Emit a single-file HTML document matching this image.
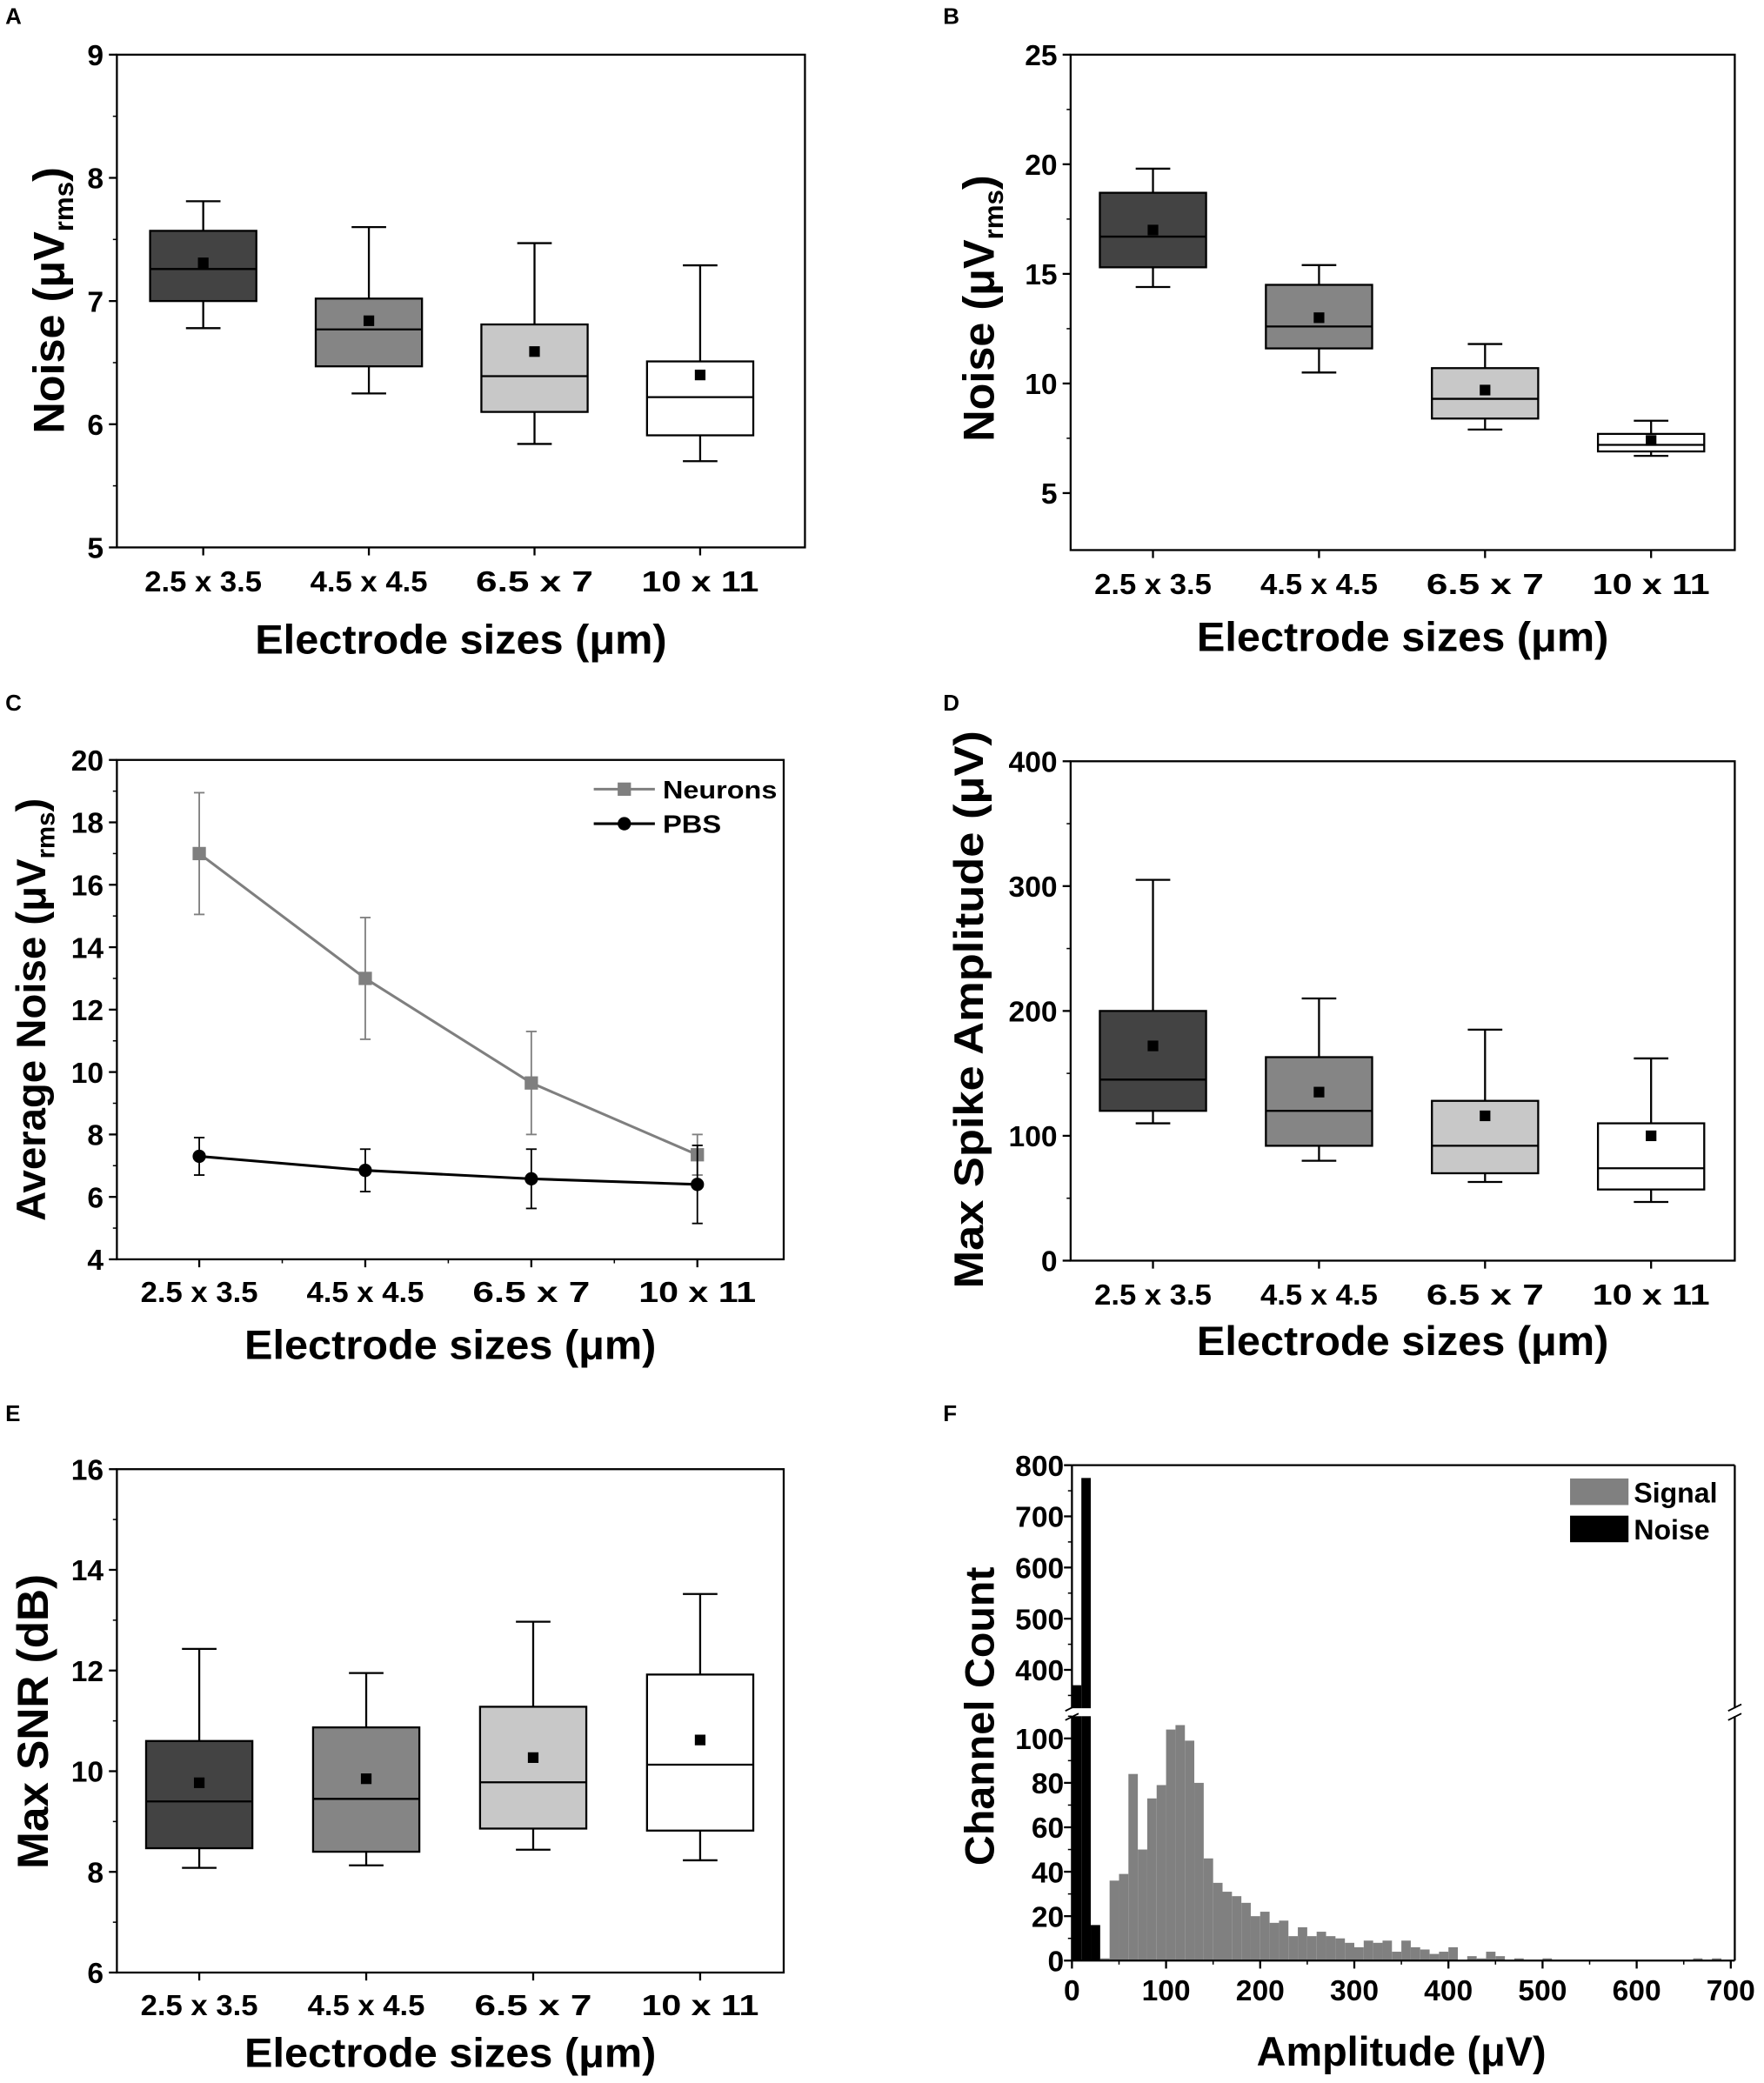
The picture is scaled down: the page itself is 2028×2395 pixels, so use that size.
<!DOCTYPE html>
<html><head><meta charset="utf-8"><style>
html,body{margin:0;padding:0;background:#fff}
svg{display:block}
text{font-family:"Liberation Sans",sans-serif;font-weight:bold;fill:#000}
</style></head><body>
<svg id="fig" width="2028" height="2395" viewBox="0 0 1328 1568" xmlns="http://www.w3.org/2000/svg">
<rect width="1328" height="1568" fill="#fff"/>
</svg>
<script>
const cats = ["2.5 x 3.5","4.5 x 4.5","6.5 x 7","10 x 11"];
const fills = ["#434343","#858585","#c8c8c8","#ffffff"];
// Panel A boxes: [whiskLow, q1, median, q3, whiskHigh, mean]
const boxA = [[6.78,7.0,7.26,7.57,7.81,7.31],[6.25,6.47,6.77,7.02,7.6,6.84],[5.84,6.1,6.39,6.81,7.47,6.59],[5.7,5.91,6.22,6.51,7.29,6.4]];
const ticksA = [5,6,7,8,9];
const boxB = [[14.4,15.3,16.7,18.7,19.8,17.0],[10.5,11.6,12.6,14.5,15.4,13.0],[7.9,8.4,9.3,10.7,11.8,9.7],[6.7,6.9,7.2,7.7,8.3,7.4]];
const ticksB = [5,10,15,20,25];
const neuronsMean = [17.0,13.0,9.65,7.35];
const neuronsErr = [1.95,1.95,1.65,0.65];
const pbsMean = [7.3,6.85,6.58,6.4];
const pbsErr = [0.6,0.68,0.95,1.25];
const ticksC = [4,6,8,10,12,14,16,18,20];
const boxD = [[110,120,145,200,305,172],[80,92,120,163,210,135],[63,70,92,128,185,116],[47,57,74,110,162,100]];
const ticksD = [0,100,200,300,400];
const boxE = [[8.08,8.47,9.4,10.6,12.43,9.77],[8.13,8.4,9.45,10.87,11.95,9.85],[8.44,8.86,9.78,11.28,12.97,10.27],[8.23,8.82,10.13,11.92,13.52,10.62]];
const ticksE = [6,8,10,12,14,16];
const binStarts = [];
for (let b=0;b<70;b++) binStarts.push(b*10);
const noiseCounts = [370,775,16];
const signalCounts = [0,0,0,1,36,39,84,50,73,79,104,106,99,80,46,35,31,29,26,20,22,17,18,11,15,11,13,11,10,8,6,9,8,9,4,9,6,5,3,4,6,0,2,1,4,2,0,1,0,0,1,0,0,0,0,0,0,0,0,0,0,0,0,0,0,0,1,0,1,0];
const ticksFx = [0,100,200,300,400,500,600,700];
const ticksFlow = [0,20,40,60,80,100];
const ticksFhigh = [400,500,600,700,800];

const NS="http://www.w3.org/2000/svg";
const svg=document.getElementById('fig');
function el(tag,attrs,parent,txt){const e=document.createElementNS(NS,tag);for(const k in attrs)e.setAttribute(k,attrs[k]);if(txt!==undefined)e.textContent=txt;(parent||svg).appendChild(e);return e;}

function frame(g,L,R,T,B){
  const f=el('rect',{x:L,y:T,width:R-L,height:B-T,fill:'none',stroke:'#000','stroke-width':1.5},g);
  
  
}
function panelLabel(t,x,y){const e=el('text',{x:x,y:y,'font-size':17},svg,t);
  
  }
function yAxis(g,L,ticks,ys,minor){
  ticks.forEach((v,i)=>{
    const y=ys(v);
    el('line',{x1:L-6,x2:L,y1:y,y2:y,stroke:'#000','stroke-width':1.5},g);
    const t=el('text',{x:L-10,y:y+8,'font-size':22,'text-anchor':'end'},g,String(v));
    
    
    if(minor&&i<ticks.length-1){const ym=ys((v+ticks[i+1])/2);el('line',{x1:L-3,x2:L,y1:ym,y2:ym,stroke:'#000','stroke-width':1},g);}
  });
}
function xCats(g,B,xs,labelY){
  cats.forEach((c,i)=>{
    const x=xs(i);
    el('line',{x1:x,x2:x,y1:B,y2:B+6,stroke:'#000','stroke-width':1.5},g);
    const t=el('text',{x:x,y:labelY,'font-size':22,'text-anchor':'middle',textLength:c.length>6?96:(c.length>5?76:70),lengthAdjust:'spacingAndGlyphs',transform:`translate(${x},0) scale(0.92,1) translate(${-x},0)`},g,c);
    
    
  });
}
function xTitle(g,cx,y,txt,len){
  const t=el('text',{x:cx,y:y,'font-size':31,'text-anchor':'middle',textLength:len,lengthAdjust:'spacingAndGlyphs'},g,txt);
  
  
}
function yTitle(g,cx,cy,main,sub,len,size){
  const t=el('text',{transform:`translate(${cx},${cy}) rotate(-90)`,'font-size':size||31,'text-anchor':'middle'},g);
  
  
  if(sub){
    el('tspan',{},t,main);
    el('tspan',{'font-size':(size||31)*0.62,dy:7},t,sub);
    el('tspan',{dy:-7},t,')');
  } else { t.textContent=main; }
  if(len){t.setAttribute('textLength',len);t.setAttribute('lengthAdjust','spacingAndGlyphs');}
}
function boxPlot(name,data,L,R,T,B,vmin,vmax,xs0,xstep,ticks,minor,labelY,titleY,ytitle){
  const g=el('g',{});
  
  
  const ys=v=>B-(v-vmin)/(vmax-vmin)*(B-T);
  const xs=i=>xs0+i*xstep;
  data.forEach((d,i)=>{
    const x=xs(i),w=40;
    const bg=el('g',{},g);
    
    
    el('line',{x1:x,x2:x,y1:ys(d[0]),y2:ys(d[1]),stroke:'#000','stroke-width':1.5},bg);
    el('line',{x1:x,x2:x,y1:ys(d[3]),y2:ys(d[4]),stroke:'#000','stroke-width':1.5},bg);
    el('line',{x1:x-13,x2:x+13,y1:ys(d[0]),y2:ys(d[0]),stroke:'#000','stroke-width':1.5},bg);
    el('line',{x1:x-13,x2:x+13,y1:ys(d[4]),y2:ys(d[4]),stroke:'#000','stroke-width':1.5},bg);
    el('rect',{x:x-w,y:ys(d[3]),width:2*w,height:ys(d[1])-ys(d[3]),fill:fills[i],stroke:'#000','stroke-width':1.5},bg);
    el('line',{x1:x-w,x2:x+w,y1:ys(d[2]),y2:ys(d[2]),stroke:'#000','stroke-width':1.5},bg);
    const m=el('rect',{x:x-4,y:ys(d[5])-4,width:8,height:8,fill:'#000'},bg);
    
    
  });
  frame(g,L,R,T,B);
  yAxis(g,L,ticks,ys,minor);
  xCats(g,B,xs,labelY);
  xTitle(g,(L+R)/2,titleY,'Electrode sizes (\u03BCm)',310);
  return g;
}

// Panel A
panelLabel('A',4,18);
boxPlot('panel-a-noise',boxA,88,606,41,412,5,9,153,124.7,ticksA,true,445,492);
yTitle(svg,48,226,'Noise (\u03BCV','rms',null,33);
// Panel B
panelLabel('B',710,18);
boxPlot('panel-b-noise',boxB,806,1306,41,414,2.4,25,868,125,ticksB,true,447,490);
yTitle(svg,748,232,'Noise (\u03BCV','rms',null,33);

// Panel C
panelLabel('C',4,535);
(function(){
  const L=88,R=590,T=572,B=948,vmin=4,vmax=20;
  const g=el('g',{});
  
  
  const ys=v=>B-(v-vmin)/(vmax-vmin)*(B-T);
  const xs=i=>150+i*125;
  function series(means,errs,color,marker,name){
    const sg=el('g',{},g);
    
    
    means.forEach((m,i)=>{
      const x=xs(i);
      el('line',{x1:x,x2:x,y1:ys(m-errs[i]),y2:ys(m+errs[i]),stroke:color,'stroke-width':1.2},sg);
      el('line',{x1:x-4,x2:x+4,y1:ys(m-errs[i]),y2:ys(m-errs[i]),stroke:color,'stroke-width':1.2},sg);
      el('line',{x1:x-4,x2:x+4,y1:ys(m+errs[i]),y2:ys(m+errs[i]),stroke:color,'stroke-width':1.2},sg);
    });
    el('polyline',{points:means.map((m,i)=>xs(i)+','+ys(m)).join(' '),fill:'none',stroke:color,'stroke-width':2},sg);
    means.forEach((m,i)=>{
      const x=xs(i),y=ys(m);
      const p = marker==='sq'?el('rect',{x:x-5,y:y-5,width:10,height:10,fill:color},sg):el('circle',{cx:x,cy:y,r:5,fill:color},sg);
      
      
    });
  }
  series(neuronsMean,neuronsErr,'#7f7f7f','sq','series-neurons');
  series(pbsMean,pbsErr,'#000','ci','series-pbs');
  frame(g,L,R,T,B);
  yAxis(g,L,ticksC,ys,true);
  xCats(g,B,xs,980);
  for(let i=0;i<3;i++){const x=xs(i)+62.5;el('line',{x1:x,x2:x,y1:B,y2:B+3,stroke:'#000'},g);}
  xTitle(g,(L+R)/2,1023,'Electrode sizes (\u03BCm)',310);
  const lg=el('g',{},g);
  
  
  el('line',{x1:447,x2:493,y1:594,y2:594,stroke:'#7f7f7f','stroke-width':2},lg);
  el('rect',{x:465,y:589,width:10,height:10,fill:'#7f7f7f'},lg);
  el('text',{x:499,y:601,'font-size':19,textLength:86,lengthAdjust:'spacingAndGlyphs'},lg,'Neurons');
  el('line',{x1:447,x2:493,y1:620,y2:620,stroke:'#000','stroke-width':2},lg);
  el('circle',{cx:470,cy:620,r:5,fill:'#000'},lg);
  el('text',{x:499,y:627,'font-size':19,textLength:44,lengthAdjust:'spacingAndGlyphs'},lg,'PBS');
})();
yTitle(svg,34,760,'Average Noise (\u03BCV','rms',null,31);

// Panel D
panelLabel('D',710,535);
boxPlot('panel-d-spike-amplitude',boxD,806,1306,573,949,0,400,868,125,ticksD,true,982,1020);
yTitle(svg,740,760,'Max Spike Amplitude (\u03BCV)',null,420,31);

// Panel E
panelLabel('E',4,1070);
boxPlot('panel-e-snr',boxE,88,590,1106,1485,6,16,150,125.7,ticksE,true,1517,1556);
yTitle(svg,36,1296,'Max SNR (dB)',null,222,33);

// Panel F
panelLabel('F',710,1070);
(function(){
  const L=807,R=1306,T=1103,B=1476;
  const g=el('g',{});
  
  
  const xs=v=>L+v/700*(1303-L);
  const yl=v=>B-v/110*(B-1292);
  const yh=v=>1286-(v-325)/(800-325)*(1286-T);
  const bw=xs(10)-xs(0);
  function bar(i,c,color,name){
    if(c<=0)return;
    const x=xs(binStarts[i]);
    const lowTop=yl(Math.min(c,110));
    const r=el('rect',{x:x,y:lowTop,width:bw,height:B-lowTop,fill:color},g);
    
    
    if(c>325){
      const r2=el('rect',{x:x,y:yh(c),width:bw,height:1286-yh(c),fill:color},g);
      
      
    }
  }
  signalCounts.forEach((c,i)=>bar(i,c,'#808080','signal-bar'));
  noiseCounts.forEach((c,i)=>bar(i,c,'#000','noise-bar'));
  el('line',{x1:L,x2:L,y1:T,y2:1286,stroke:'#000','stroke-width':1.5},g);
  el('line',{x1:L,x2:L,y1:1292,y2:B,stroke:'#000','stroke-width':1.5},g);
  el('line',{x1:R,x2:R,y1:T,y2:1286,stroke:'#000','stroke-width':1.5},g);
  el('line',{x1:R,x2:R,y1:1292,y2:B,stroke:'#000','stroke-width':1.5},g);
  el('line',{x1:L,x2:R,y1:T,y2:T,stroke:'#000','stroke-width':1.5},g);
  el('line',{x1:L,x2:R,y1:B,y2:B,stroke:'#000','stroke-width':1.5},g);
  [L,R].forEach(x=>{
    el('line',{x1:x-5,x2:x+5,y1:1288,y2:1283,stroke:'#000','stroke-width':1.2},g);
    el('line',{x1:x-5,x2:x+5,y1:1295,y2:1290,stroke:'#000','stroke-width':1.2},g);
  });
  ticksFlow.forEach(v=>{
    const y=yl(v);
    el('line',{x1:L-6,x2:L,y1:y,y2:y,stroke:'#000','stroke-width':1.5},g);
    el('line',{x1:L-3,x2:L,y1:yl(v+10),y2:yl(v+10),stroke:'#000'},g);
    const t=el('text',{x:L-6,y:y+8,'font-size':22,'text-anchor':'end'},g,String(v));
    
    
  });
  ticksFhigh.forEach(v=>{
    const y=yh(v);
    el('line',{x1:L-6,x2:L,y1:y,y2:y,stroke:'#000','stroke-width':1.5},g);
    if(v<800)el('line',{x1:L-3,x2:L,y1:yh(v+50),y2:yh(v+50),stroke:'#000'},g);
    const t=el('text',{x:L-6,y:y+8,'font-size':22,'text-anchor':'end'},g,String(v));
    
    
  });
  el('line',{x1:L-3,x2:L,y1:yh(350),y2:yh(350),stroke:'#000'},g);
  ticksFx.forEach((v,i)=>{
    const x=xs(v);
    el('line',{x1:x,x2:x,y1:B,y2:B+6,stroke:'#000','stroke-width':1.5},g);
    if(i<ticksFx.length-1)el('line',{x1:xs(v+50),x2:xs(v+50),y1:B,y2:B+3,stroke:'#000'},g);
    const t=el('text',{x:x,y:B+30,'font-size':22,'text-anchor':'middle'},g,String(v));
    
    
  });
  xTitle(g,1055,1555,'Amplitude (\u03BCV)',218);
  const lg=el('g',{},g);
  
  
  el('rect',{x:1182,y:1113,width:44,height:20,fill:'#808080'},lg);
  el('text',{x:1230,y:1131,'font-size':21},lg,'Signal');
  el('rect',{x:1182,y:1141,width:44,height:20,fill:'#000'},lg);
  el('text',{x:1230,y:1159,'font-size':21},lg,'Noise');
})();
yTitle(svg,748,1292,'Channel Count',null,225,31);
</script>
</body></html>
